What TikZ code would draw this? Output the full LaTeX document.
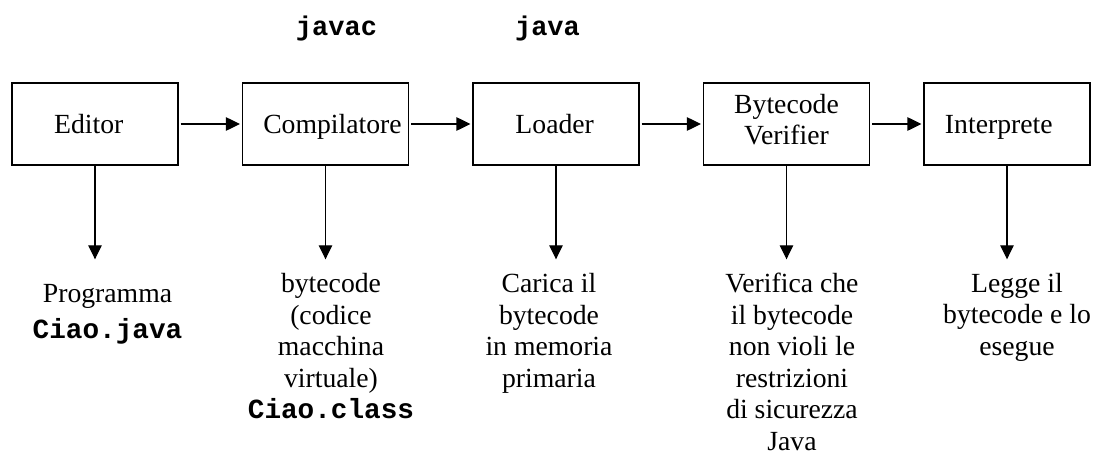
\documentclass[tikz,border=0pt]{standalone}
\usepackage{fontspec}
\setmainfont{Liberation Serif}
\setmonofont{Liberation Mono}
\usetikzlibrary{arrows.meta}
\newcommand{\code}[1]{{\ttfamily\bfseries #1}}

\begin{document}
\begin{tikzpicture}[x=1pt,y=-1pt,
  every node/.style={inner sep=0pt},
  stage/.style={draw, line width=1.2pt, minimum width=166pt, minimum height=82pt,
    align=center, text depth=0pt, font=\fontsize{27.7}{31.5}\selectfont},
  desc/.style={anchor=north, align=center, font=\fontsize{27.7}{31.5}\selectfont},
  cmd/.style={anchor=base, font=\fontsize{27}{31}\ttfamily\bfseries},
  flow/.style={line width=1.2pt, -{Triangle[length=14pt,width=13.5pt]}}]

\useasboundingbox (0,0) rectangle (1096,455);

% processing stages
\node[stage] (ed) at (95,124)    {\kern-12.4pt Editor};
\node[stage] (co) at (325.5,124) {Compilatore\kern-14pt};
\node[stage] (lo) at (556,124)   {\kern-2.6pt Loader};
\node[stage, text depth=9pt] (bv) at (786.5,124) {Bytecode\\Verifier};
\node[stage] (in) at (1007,124)  {\kern-16.4pt Interprete};

% commands
\node[cmd] (javac) at (336.5,35) {javac};
\node[cmd] (java)  at (547.5,35) {java};

% pipeline
\draw[flow, shorten <=2pt, shorten >=2pt] (ed) -- (co);
\draw[flow, shorten <=2pt, shorten >=2pt] (co) -- (lo);
\draw[flow, shorten <=2pt, shorten >=2pt] (lo) -- (bv);
\draw[flow, shorten <=2pt, shorten >=2pt] (bv) -- (in);

% outputs of each stage
\coordinate (ed-out) at (95,259.3);
\coordinate (co-out) at (325.5,259.3);
\coordinate (lo-out) at (556,259.3);
\coordinate (bv-out) at (786.5,259.3);
\coordinate (in-out) at (1007,259.3);

\draw[flow] (ed) -- (ed-out);
\draw[flow] (co) -- (co-out);
\draw[flow] (lo) -- (lo-out);
\draw[flow] (bv) -- (bv-out);
\draw[flow] (in) -- (in-out);

\node[desc] (ed-txt) at (107.5,284.5) {Programma\\[4pt]\code{Ciao.java}};
\node[desc] (co-txt) at (331,273.5) {bytecode\\(codice\\macchina\\virtuale)\\\code{Ciao.class}};
\node[desc] (lo-txt) at (549,273.2) {Carica il\\bytecode\\in memoria\\primaria};
\node[desc] (bv-txt) at (792,273) {Verifica che\\il bytecode\\non violi le\\restrizioni\\di sicurezza\\Java};
\node[desc] (in-txt) at (1017,273) {Legge il\\bytecode e lo\\esegue};
\end{tikzpicture}
\end{document}
